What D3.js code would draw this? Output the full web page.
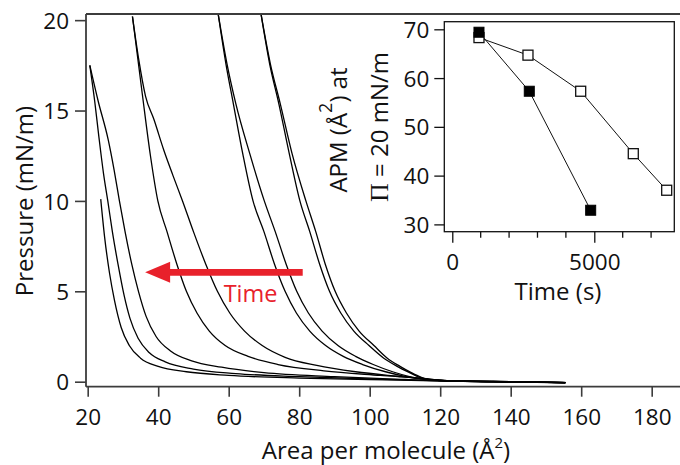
<!DOCTYPE html>
<html><head><meta charset="utf-8">
<script src="https://cdn.jsdelivr.net/npm/d3@7"></script>
<style>
html,body{margin:0;padding:0;background:#fff;}
svg{display:block;font-family:"Open Sans",sans-serif;}
</style></head>
<body><svg id="c" width="680" height="465"></svg>
<script>
// ---------- DATA ----------
// Isotherms: [area per molecule (Å²), surface pressure (mN/m)]
const curveE  = [[23.7,10.1],[24.8,8],[26.2,6],[27.6,4.5],[29.5,3],[31.8,2],[35,1.3],[40,0.85],[48,0.55],[60,0.35],[80,0.2],[100,0.12],[115,0.06],[130,0.01],[145,-0.03],[155.5,-0.05]];
const curveA1 = [[20.6,17.5],[22,15.5],[23.2,13.5],[24.5,11.5],[25.7,10],[27,8.3],[28.6,6.5],[30.3,4.8],[32,3.5],[34.3,2.4],[37.5,1.6],[42,1.1],[50,0.7],[62,0.45],[80,0.28],[100,0.15],[115,0.08],[130,0.02],[145,-0.02],[155.5,-0.04]];
const curveA2 = [[20.6,17.5],[23,15.5],[25.8,13.4],[27.5,11.7],[29,10],[30.6,8.3],[32.5,6.5],[34.4,5],[36.6,3.6],[39.4,2.5],[43.5,1.7],[49.5,1.15],[58,0.8],[70,0.5],[90,0.28],[110,0.12],[120,0.05],[135,0],[155.5,-0.05]];
const curveB1 = [[32.7,20.2],[35.5,15.9],[37.8,12.5],[39.9,10],[42.5,8.3],[45.3,6.5],[48,5],[51,3.8],[54.5,2.8],[59,2],[65.5,1.4],[74,0.95],[87,0.6],[103,0.35],[115,0.18],[122,0.06],[135,0.01],[155.5,-0.06]];
const curveB2 = [[32.7,20.2],[34.5,17.8],[36.4,15.8],[38.8,14.5],[41.6,12.8],[44.2,11.4],[46.9,10],[50,8.3],[53.5,6.5],[56.8,5],[60.3,3.8],[64.5,2.8],[69.5,2],[76,1.35],[85,0.9],[96,0.55],[108,0.3],[116,0.15],[122,0.06],[135,0.02],[155.5,-0.05]];
const curveC1 = [[57.05,20.3],[59.2,17.6],[61.3,15.4],[64,12.6],[66.9,10],[70,8.3],[73,6.5],[76,5],[79.2,3.8],[83,2.8],[87.5,2],[92.5,1.4],[98,0.95],[104.5,0.55],[110,0.3],[115,0.15],[120,0.07],[135,0.01],[155.5,-0.05]];
const curveC2 = [[57.05,20.3],[59.5,17.6],[62,15.4],[66,12.6],[70.1,10],[73.2,8.3],[76.3,6.5],[79.3,5],[82.6,3.8],[86.5,2.8],[91,2],[96,1.4],[101,0.95],[106.5,0.55],[111,0.3],[115,0.15],[120,0.07],[135,0.01],[155.5,-0.05]];
const curveD1 = [[69.2,20.3],[71.6,17.6],[74.2,15.4],[77.2,12.6],[80.2,10],[83,8.3],[85.8,6.5],[88.6,5],[91.8,3.8],[95.5,2.8],[99.8,2],[104,1.3],[107.8,0.85],[111.3,0.5],[114,0.25],[117,0.1],[125,0.03],[140,-0.01],[155.5,-0.05]];
const curveD2 = [[69.2,20.3],[71.8,17.6],[74.6,15.4],[78,12.6],[81.9,10],[84.7,8.3],[87.4,6.5],[90.2,5],[93.4,3.8],[97,2.8],[101.2,2],[105,1.3],[108.6,0.85],[111.8,0.5],[114.5,0.25],[117,0.1],[125,0.03],[140,-0.01],[155.5,-0.05]];
const isotherms = [curveE, curveA1, curveA2, curveB1, curveB2, curveC1, curveC2, curveD1, curveD2];

const xTicksMain = [20,40,60,80,100,120,140,160,180];
const yTicksMain = [0,5,10,15,20];

// Inset: APM at 20 mN/m vs time
const insetFilled = [[940,69.4],[2711,57.3],[4873,32.9]];
const insetOpen   = [[940,68.3],[2665,64.7],[4521,57.3],[6373,44.5],[7549,37.0]];
const insetYTicks = [30,40,50,60,70];
const insetXMajor = [0,5000];
const insetXMinor = [1000,2000,3000,4000,6000,7000];

// ---------- DRAW ----------
const svg = d3.select("#c");
const x = d3.scaleLinear().domain([19.52,188.03]).range([86,680]);
const y = d3.scaleLinear().domain([-0.277,20.34]).range([386.7,14]);
const axisCol = "#3c3c3c";
const tickFs = 22.5, titleFs = 24;

const line = d3.line().x(d=>x(d[0])).y(d=>y(d[1])).curve(d3.curveMonotoneX);
svg.append("g").selectAll("path").data(isotherms).join("path")
  .attr("d", line).attr("fill","none").attr("stroke","#000").attr("stroke-width",1.3);

// frame
svg.append("line").attr("x1",86).attr("x2",680).attr("y1",14).attr("y2",14).attr("stroke",axisCol).attr("stroke-width",1.8);
svg.append("line").attr("x1",86).attr("x2",680).attr("y1",386.7).attr("y2",386.7).attr("stroke",axisCol).attr("stroke-width",1.8);
svg.append("line").attr("x1",86).attr("x2",86).attr("y1",14).attr("y2",386.7).attr("stroke",axisCol).attr("stroke-width",1.8);

// x axis
const xa = svg.append("g").attr("transform","translate(0,386.7)")
  .call(d3.axisBottom(x).tickValues(xTicksMain).tickSize(10).tickPadding(4).tickFormat(d3.format("d")));
xa.select(".domain").remove();
xa.selectAll("line").attr("stroke",axisCol).attr("stroke-width",1.6);
xa.selectAll("text").attr("font-size",tickFs).attr("fill","#111").attr("font-family","Open Sans").attr("dy",null).attr("y",38.8);

const ya = svg.append("g").attr("transform","translate(86,0)")
  .call(d3.axisLeft(y).tickValues(yTicksMain).tickSize(11).tickPadding(6).tickFormat(d3.format("d")));
ya.select(".domain").remove();
ya.selectAll("line").attr("stroke",axisCol).attr("stroke-width",1.6);
ya.selectAll("text").attr("font-size",tickFs).attr("fill","#111").attr("font-family","Open Sans").attr("dy","0.36em");

// axis titles
const xt = svg.append("text").attr("x",386).attr("y",459).attr("text-anchor","middle")
  .attr("font-size",titleFs).attr("fill","#111");
xt.append("tspan").text("Area per molecule (Å");
xt.append("tspan").attr("dy",-11).attr("font-size",15).text("2");
xt.append("tspan").attr("dy",11).text(")");

svg.append("text").attr("transform","translate(33,201) rotate(-90)").attr("text-anchor","middle")
  .attr("font-size",titleFs).attr("fill","#111").text("Pressure (mN/m)");

// red arrow annotation
const red = "#e8212b";
const ax0 = x(81), ax1 = x(36.3), ay = y(6.05);
svg.append("line").attr("x1",ax0).attr("x2",ax1+22).attr("y1",ay).attr("y2",ay).attr("stroke",red).attr("stroke-width",6.7);
svg.append("path").attr("d",`M${ax1},${ay} L${ax1+25},${ay-10.5} L${ax1+25},${ay+10.5} Z`).attr("fill",red);
svg.append("text").attr("x",x(66.2)).attr("y",y(4.4)).attr("text-anchor","middle").attr("font-size",23.5).attr("fill",red).text("Time");

// ---------- INSET ----------
const ix = d3.scaleLinear().domain([-281,7817]).range([444.3,674.3]);
const iy = d3.scaleLinear().domain([28.5,71.56]).range([231.7,21.7]);
svg.append("rect").attr("x",444.3).attr("y",21.7).attr("width",230).attr("height",210)
  .attr("fill","#fff").attr("stroke","#111").attr("stroke-width",1.3);

const iya = svg.append("g").attr("transform","translate(444.3,0)")
  .call(d3.axisLeft(iy).tickValues(insetYTicks).tickSize(10).tickPadding(5).tickFormat(d3.format("d")));
iya.select(".domain").remove();
iya.selectAll("line").attr("stroke","#111").attr("stroke-width",1.3);
iya.selectAll("text").attr("font-size",tickFs).attr("fill","#111").attr("font-family","Open Sans").attr("dy","0.36em");

const ixa = svg.append("g").attr("transform","translate(0,231.7)")
  .call(d3.axisBottom(ix).tickValues(insetXMajor).tickSize(11).tickPadding(4).tickFormat(d3.format("d")));
ixa.select(".domain").remove();
ixa.selectAll("line").attr("stroke","#111").attr("stroke-width",1.3);
ixa.selectAll("text").attr("font-size",tickFs).attr("fill","#111").attr("font-family","Open Sans").attr("dy",null).attr("y",38.5);
svg.append("g").selectAll("line").data(insetXMinor).join("line")
  .attr("x1",d=>ix(d)).attr("x2",d=>ix(d)).attr("y1",231.7).attr("y2",237.7)
  .attr("stroke","#111").attr("stroke-width",1.3);

svg.append("text").attr("x",558).attr("y",300).attr("text-anchor","middle").attr("font-size",titleFs).attr("fill","#111").text("Time (s)");

const l1 = svg.append("text").attr("transform","translate(347,130) rotate(-90)").attr("text-anchor","middle")
  .attr("font-size",titleFs).attr("fill","#111");
l1.append("tspan").text("APM (Å");
l1.append("tspan").attr("dy",-15).attr("font-size",18).text("2");
l1.append("tspan").attr("dy",15).text(") at");
const l2 = svg.append("text").attr("transform","translate(388,127) rotate(-90)").attr("text-anchor","middle")
  .attr("font-size",titleFs).attr("fill","#111");
l2.append("tspan").attr("font-family","Liberation Serif").attr("font-size",26).text("Π");
l2.append("tspan").text(" = 20 mN/m");

const il = d3.line().x(d=>ix(d[0])).y(d=>iy(d[1]));
svg.append("path").attr("d",il(insetOpen)).attr("fill","none").attr("stroke","#111").attr("stroke-width",1);
svg.append("path").attr("d",il(insetFilled)).attr("fill","none").attr("stroke","#111").attr("stroke-width",1);
const s = 10;
svg.append("g").selectAll("rect").data(insetOpen).join("rect")
  .attr("x",d=>ix(d[0])-s/2).attr("y",d=>iy(d[1])-s/2).attr("width",s).attr("height",s)
  .attr("fill","#fff").attr("stroke","#111").attr("stroke-width",1.3);
svg.append("g").selectAll("rect").data(insetFilled).join("rect")
  .attr("x",d=>ix(d[0])-s/2).attr("y",d=>iy(d[1])-s/2).attr("width",s).attr("height",s)
  .attr("fill","#000").attr("stroke","#000").attr("stroke-width",1);
</script></body></html>
